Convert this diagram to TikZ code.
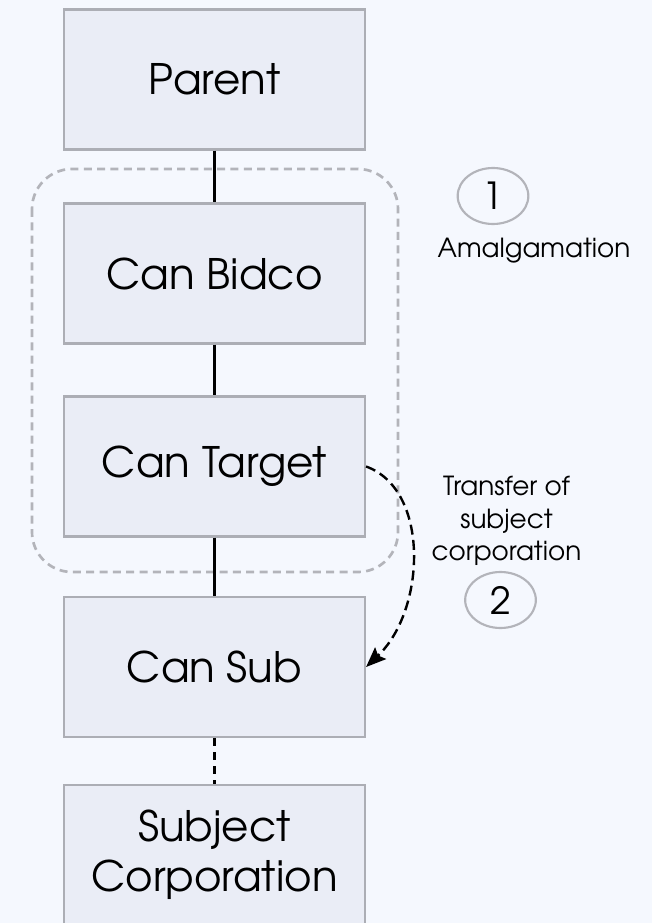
\documentclass[tikz,border=0pt]{standalone}
\usepackage{fontspec}
\setmainfont{TeX Gyre Adventor}
\usetikzlibrary{arrows.meta,shapes.geometric}

\definecolor{canvas}{HTML}{F5F8FE}
\definecolor{boxfill}{HTML}{EAEDF6}
\definecolor{boxline}{HTML}{ACAEB5}
\definecolor{groupline}{HTML}{B3B4BA}

\tikzset{
  entity/.style={draw=boxline, fill=boxfill, line width=1.6pt,
    minimum width=225.75pt, minimum height=105pt, inner sep=0pt,
    align=center, font=\fontsize{31.5}{37.5}\selectfont},
  link/.style={draw=black, line width=1.7pt},
  looselink/.style={link, dash pattern=on 6pt off 4.5pt},
  grouping/.style={draw=groupline, line width=2pt, dash pattern=on 6pt off 4pt,
    rounded corners=30pt},
  stepmark/.style={draw=groupline, line width=1.6pt, ellipse, inner sep=0pt,
    minimum width=53pt, minimum height=42pt, font=\fontsize{28}{32}\selectfont},
  note/.style={inner sep=0pt, anchor=base, font=\fontsize{19.7}{24}\selectfont},
  move/.style={draw=black, line width=1.8pt, dash pattern=on 7.5pt off 4pt,
    -{Stealth[length=15pt, width=12pt, inset=2.5pt]}}
}

\begin{document}
\begin{tikzpicture}[x=0.75pt, y=-0.75pt]
  % canvas
  \fill[canvas] (0,0) rectangle (652,923);
  \useasboundingbox (0,0) rectangle (652,923);

  % amalgamated pair
  \draw[grouping] (32,169) rectangle (398,572);

  % ownership chain
  \node[entity] (parent) at (214.5,79.5) {Parent};
  \node[entity] (bidco)  at (214.5,273.5) {Can Bidco};
  \node[entity] (target) at (214.5,466.5) {Can Target};
  \node[entity] (sub)    at (214.5,667) {Can Sub};
  \node[entity] (subj)   at (214.5,855) {Subject\\Corporation};

  \draw[link] (parent) -- (bidco);
  \draw[link] (bidco) -- (target);
  \draw[link] (target) -- (sub);
  \draw[looselink] (sub) -- (subj);

  % step 1
  \node[stepmark] (one) at (493,196) {1};
  \node[note] (amalg) at (534,258) {Amalgamation};

  % step 2
  \draw[move] (target.east) .. controls +(64,23) and +(60,-57) .. (sub.east);
  \node[note] (trfa) at (506.5,495) {Transfer of};
  \node[note] (trfb) at (506.5,528) {subject};
  \node[note] (trfc) at (506.5,560) {corporation};
  \node[stepmark] (two) at (500.5,600) {2};
\end{tikzpicture}
\end{document}
